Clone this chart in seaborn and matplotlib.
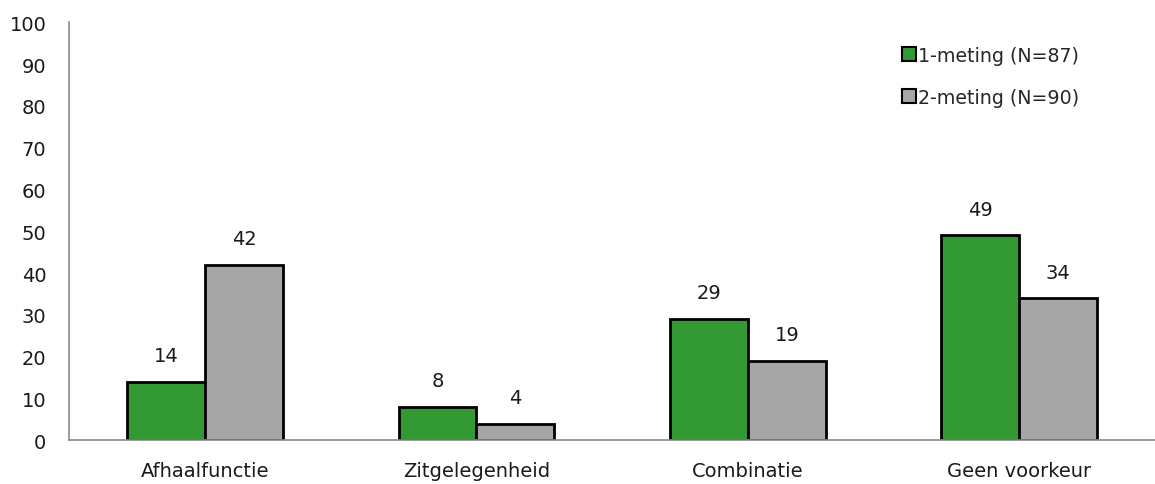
import matplotlib
matplotlib.use("Agg")
import matplotlib.pyplot as plt
import seaborn as sns
import pandas as pd
from matplotlib.lines import Line2D

categories = ["Afhaalfunctie", "Zitgelegenheid", "Combinatie", "Geen voorkeur"]
series_names = ["1-meting (N=87)", "2-meting (N=90)"]
meting1 = [14, 8, 29, 49]
meting2 = [42, 4, 19, 34]
yticks = list(range(0, 101, 10))

colors = ["#339933", "#a6a6a6"]

df = pd.DataFrame({
    "categorie": categories * 2,
    "reeks": [series_names[0]] * 4 + [series_names[1]] * 4,
    "waarde": meting1 + meting2,
})

sns.set_theme(style="white")
plt.rcParams["font.family"] = ["DejaVu Sans"]

fig = plt.figure(figsize=(11.55, 4.85), dpi=100)
ax = fig.add_axes([0.060, 0.09, 0.94, 0.862])

sns.barplot(data=df, x="categorie", y="waarde", hue="reeks", order=categories,
            hue_order=series_names, palette=colors, width=0.574, saturation=1,
            edgecolor="black", linewidth=2, ax=ax, legend=False)

for cont in ax.containers:
    ax.bar_label(cont, fmt="%d", padding=12, fontsize=14, color="#1a1a1a")

ax.set_ylim(0, 100)
ax.set_xlim(-0.5, 3.5)
ax.set_yticks(yticks)
ax.set_xlabel("")
ax.set_ylabel("")
ax.tick_params(axis="y", labelsize=14, colors="#1a1a1a", length=0, pad=16.5)
ax.tick_params(axis="x", labelsize=14, colors="#1a1a1a", length=0, pad=15)

for side in ["top", "right"]:
    ax.spines[side].set_visible(False)
for side in ["left", "bottom"]:
    ax.spines[side].set_color("#898989")
    ax.spines[side].set_linewidth(1.2)

handles = [Line2D([0], [0], marker="s", linestyle="none", markersize=10,
                  markerfacecolor=c, markeredgecolor="black", markeredgewidth=1.5)
           for c in colors]
ax.legend(handles, series_names, loc="upper right", bbox_to_anchor=(0.937, 0.962),
          frameon=False, fontsize=13.7, handletextpad=0.05, labelspacing=1.2,
          handlelength=0.8, borderaxespad=0)

fig.savefig("out.png", dpi=100)
